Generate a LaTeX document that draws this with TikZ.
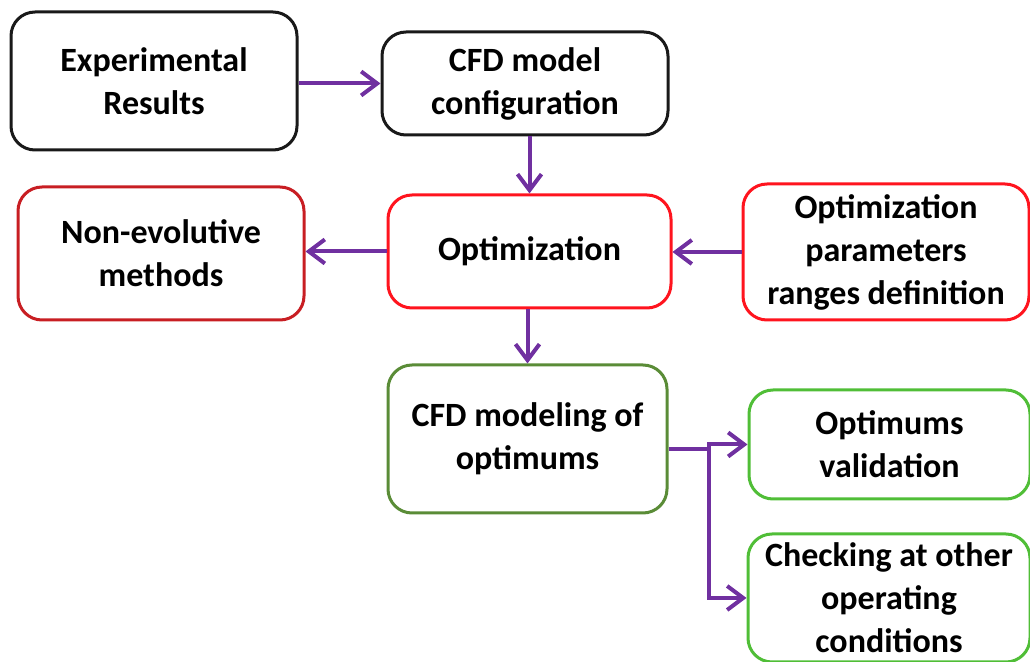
\documentclass[tikz,border=0pt]{standalone}
\usepackage{fontspec}
\setmainfont{Carlito}
\usepackage{tikz}
\usetikzlibrary{arrows.meta}
\usepackage{xcolor}
\definecolor{ColK}{RGB}{25,25,25}
\definecolor{ColDarkRed}{RGB}{200,30,35}
\definecolor{ColRed}{RGB}{255,20,30}
\definecolor{ColDarkGreen}{RGB}{90,140,55}
\definecolor{ColGreen}{RGB}{80,190,55}
\definecolor{ColPurple}{RGB}{112,48,160}
\tikzstyle{BoxFlow}=[draw,rounded corners=12pt,line width=1.5pt,align=center,
inner sep=0pt,minimum width=143pt,font=\bfseries\fontsize{17}{21.5}\selectfont]
\tikzstyle{ArrowFlow}=[ColPurple,line width=2pt,
-{Straight Barb[length=8pt,width=12pt,line width=2pt]}]

\begin{document}
\begin{tikzpicture}[x=0.5pt,y=-0.5pt]
        \useasboundingbox (0,0) rectangle (1030,662);
        \node[BoxFlow,draw=ColK,minimum height=69pt](exp)at(154,81){Experimental\\Results};
        \node[BoxFlow,draw=ColK,minimum height=51.5pt](conf)at(525,83.5){CFD model\\configuration};
        \node[BoxFlow,draw=ColDarkRed,minimum height=66.5pt](nonev)at(161,253.5){Non-evolutive\\methods};
        \node[BoxFlow,draw=ColRed,minimum width=141.5pt,minimum height=56.5pt](opt)at(529.5,251.5){Optimization};
        \node[BoxFlow,draw=ColRed,minimum height=68pt](param)at(886,252){Optimization\\parameters\\ranges definition};
        \node[BoxFlow,draw=ColDarkGreen,minimum width=139.5pt,minimum height=74pt](model)at(527.5,439){CFD modeling of\\optimums};
        \node[BoxFlow,draw=ColGreen,minimum width=140.5pt,minimum height=54.5pt](valid)at(889.5,444.5){Optimums\\validation};
        \node[BoxFlow,draw=ColGreen,minimum width=141pt,minimum height=64pt](check)at(889,598){Checking at other\\operating\\conditions};
        \coordinate(fork)at(709,449);
        \draw[ArrowFlow](exp.east|-conf)--(conf.west);
        \draw[ArrowFlow](conf.south-|opt)--(opt.north);
        \draw[ArrowFlow](opt.west)--(nonev.east|-opt);
        \draw[ArrowFlow](param.west)--(opt.east|-param);
        \draw[ArrowFlow](opt.south-|model)--(model.north);
        \draw[ColPurple,line width=2pt](model.east|-fork)--(fork);
        \draw[ArrowFlow](fork)|-(valid.west);
        \draw[ArrowFlow](fork)|-(check.west);
    \end{tikzpicture}
\end{document}
